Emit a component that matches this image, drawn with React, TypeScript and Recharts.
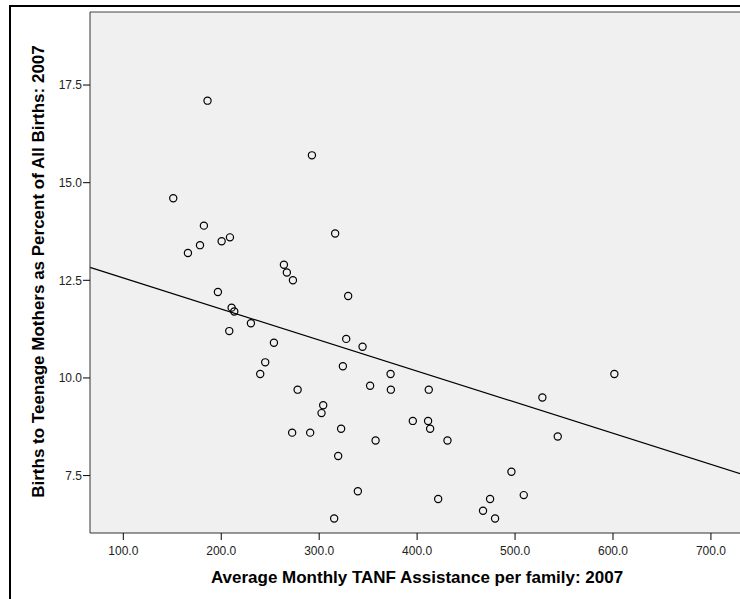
import React from 'react';
import {
  ScatterChart,
  Scatter,
  XAxis,
  YAxis,
  ReferenceArea,
  ReferenceLine,
} from 'recharts';

// Average monthly TANF assistance per family, 2007 (one entry per state)
const TANF = [
  186.0, 151.0, 182.3, 178.3, 166.0, 200.4, 208.9, 264.0, 267.0, 273.2,
  196.6, 292.6, 316.3, 329.6, 327.6, 344.3, 324.2, 372.9, 210.6, 213.3,
  230.3, 208.2, 253.8, 244.9, 239.8, 278.0, 272.4, 352.0, 373.2, 411.9,
  304.1, 302.4, 290.8, 322.4, 357.6, 395.6, 411.2, 413.3, 431.0, 319.4,
  339.5, 601.4, 527.9, 543.6, 496.3, 508.9, 474.5, 421.5, 467.3, 479.6,
  315.3,
];

// Births to teenage mothers as percent of all births, 2007
const TEEN_BIRTHS = [
  17.1, 14.6, 13.9, 13.4, 13.2, 13.5, 13.6, 12.9, 12.7, 12.5,
  12.2, 15.7, 13.7, 12.1, 11.0, 10.8, 10.3, 10.1, 11.8, 11.7,
  11.4, 11.2, 10.9, 10.4, 10.1, 9.7, 8.6, 9.8, 9.7, 9.7,
  9.3, 9.1, 8.6, 8.7, 8.4, 8.9, 8.9, 8.7, 8.4, 8.0,
  7.1, 10.1, 9.5, 8.5, 7.6, 7.0, 6.9, 6.9, 6.6, 6.4,
  6.4,
];

const X_TICKS = [100, 200, 300, 400, 500, 600, 700];
const Y_TICKS = [7.5, 10.0, 12.5, 15.0, 17.5];

// fit line end points
const FIT_LINE = [
  { x: 66, y: 12.83 },
  { x: 745, y: 7.43 },
];

const X_DOMAIN = [66, 745];
const Y_DOMAIN = [6.03, 19.37];

const points = TANF.map((x, i) => ({ x, y: TEEN_BIRTHS[i] }));

const HollowDot = (props: any) => (
  <circle cx={props.cx} cy={props.cy} r={3.6} fill="none" stroke="#000" strokeWidth={1.2} />
);

const FONT = '"Liberation Sans", Arial, sans-serif';

export default function App() {
  return (
    <div
      style={{
        position: 'absolute',
        left: 0,
        top: 0,
        width: 740,
        height: 599,
        overflow: 'hidden',
        background: '#fff',
        fontFamily: FONT,
      }}
    >
      <div
        style={{
          position: 'absolute',
          left: 9,
          top: 5,
          width: 731,
          height: 594,
          borderLeft: '2px solid #000',
          borderTop: '2px solid #000',
        }}
      />
      <div style={{ position: 'absolute', left: 0, top: 0 }}>
        <ScatterChart
          width={740}
          height={599}
          margin={{ top: 12, right: -15, bottom: 26, left: 30 }}
          style={{ overflow: 'hidden' }}
        >
          <ReferenceArea
            x1={X_DOMAIN[0]}
            x2={X_DOMAIN[1]}
            y1={Y_DOMAIN[0]}
            y2={Y_DOMAIN[1]}
            fill="#f0f0f0"
            fillOpacity={1}
            stroke="none"
          />
          <ReferenceLine y={Y_DOMAIN[1]} stroke="#444" strokeWidth={1} />
          <XAxis
            type="number"
            dataKey="x"
            domain={X_DOMAIN}
            allowDataOverflow
            ticks={X_TICKS}
            tickFormatter={(v: number) => v.toFixed(1)}
            height={40}
            tickSize={7}
            tickMargin={6}
            axisLine={{ stroke: '#333' }}
            tickLine={{ stroke: '#000' }}
            tick={{ fill: '#222', fontSize: 12, fontFamily: FONT }}
            label={() => (
              <text
                x={417}
                y={583}
                textAnchor="middle"
                fontSize={17}
                fontWeight="bold"
                fontFamily={FONT}
                fill="#000"
              >
                Average Monthly TANF Assistance per family: 2007
              </text>
            )}
          />
          <YAxis
            type="number"
            dataKey="y"
            domain={Y_DOMAIN}
            allowDataOverflow
            ticks={Y_TICKS}
            tickFormatter={(v: number) => v.toFixed(1)}
            width={60}
            tickSize={7}
            tickMargin={1}
            axisLine={{ stroke: '#333' }}
            tickLine={{ stroke: '#000' }}
            tick={{ fill: '#222', fontSize: 12, fontFamily: FONT }}
            label={() => (
              <text
                x={44}
                y={271.5}
                transform="rotate(-90, 44, 271.5)"
                textAnchor="middle"
                fontSize={17}
                fontWeight="bold"
                fontFamily={FONT}
                fill="#000"
              >
                Births to Teenage Mothers as Percent of All Births: 2007
              </text>
            )}
          />
          <ReferenceLine segment={FIT_LINE} stroke="#000" strokeWidth={1.2} />
          <Scatter data={points} shape={HollowDot} isAnimationActive={false} />
        </ScatterChart>
      </div>
    </div>
  );
}
